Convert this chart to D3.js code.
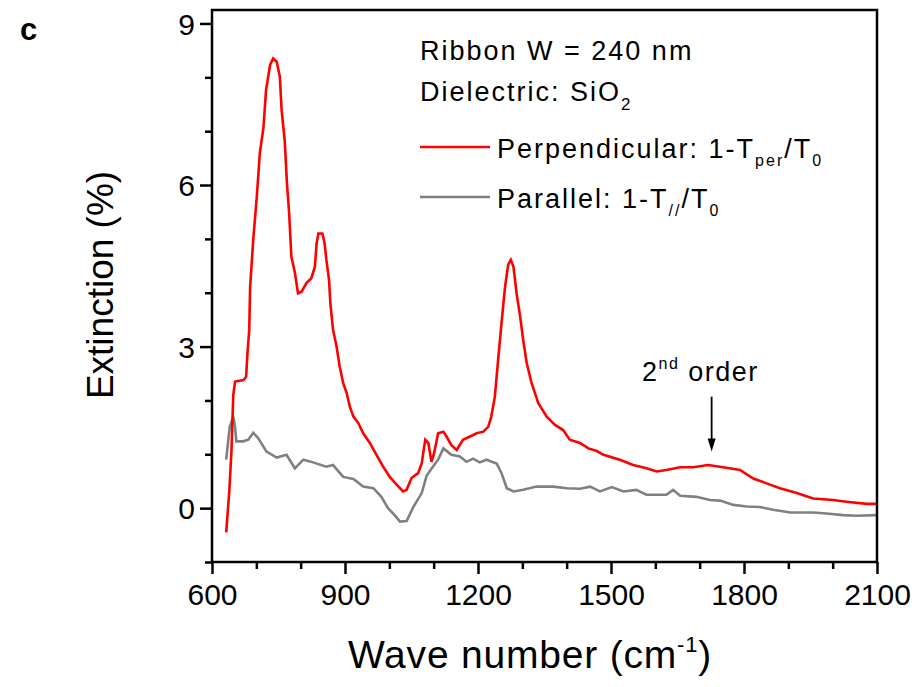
<!DOCTYPE html>
<html><head><meta charset="utf-8">
<script src="https://cdn.jsdelivr.net/npm/d3@7/dist/d3.min.js"></script>
<style>
body{margin:0;background:#fff;}
svg{display:block;font-family:"Liberation Sans",Arial,sans-serif;}
</style></head>
<body><svg id="chart" width="924" height="687"></svg>
<script>
// Perpendicular (red) series
const wnPerp = [632,639,644,648,652,671,677,680,684,686,693,701,708,716,722,731,738,746,753,757,764,769,774,779,787,794,802,813,824,832,836,840,849,854,858,864,867,873,881,888,896,904,911,919,930,941,956,971,986,1001,1017,1031,1039,1050,1065,1073,1081,1088,1095,1101,1110,1122,1129,1140,1152,1166,1182,1197,1212,1223,1230,1238,1246,1253,1261,1268,1274,1280,1287,1295,1302,1310,1321,1336,1355,1373,1392,1407,1430,1449,1468,1483,1520,1550,1580,1603,1625,1656,1685,1719,1753,1791,1821,1851,1881,1919,1956,2001,2031,2077,2100];
const extPerp = [-0.45,0.31,1.08,2.10,2.35,2.38,2.44,2.88,3.31,4.11,4.98,5.78,6.60,7.06,7.77,8.23,8.35,8.29,8.01,7.39,6.83,6.04,5.48,4.67,4.37,3.99,4.02,4.18,4.27,4.48,4.92,5.10,5.10,4.92,4.61,4.24,3.80,3.31,3.00,2.63,2.32,2.13,1.88,1.70,1.58,1.39,1.21,0.99,0.77,0.58,0.43,0.31,0.34,0.56,0.65,0.83,1.27,1.21,0.86,1.02,1.39,1.42,1.33,1.17,1.08,1.27,1.33,1.39,1.42,1.51,1.70,2.07,2.81,3.43,4.11,4.52,4.61,4.48,3.99,3.56,3.12,2.69,2.32,1.95,1.70,1.55,1.45,1.27,1.21,1.11,1.06,0.99,0.90,0.80,0.74,0.68,0.71,0.76,0.76,0.80,0.76,0.71,0.55,0.46,0.37,0.28,0.18,0.15,0.12,0.08,0.08];
// Parallel (gray) series
const wnPar = [632,640,648,652,655,670,682,693,704,723,746,768,787,806,828,858,873,896,919,941,964,982,997,1013,1024,1039,1054,1073,1084,1099,1110,1122,1140,1159,1174,1189,1204,1219,1242,1253,1265,1280,1302,1332,1370,1400,1430,1453,1475,1502,1528,1557,1580,1625,1640,1656,1693,1723,1746,1776,1806,1836,1866,1904,1956,1986,2024,2054,2100];
const extPar = [0.90,1.51,1.70,1.51,1.24,1.24,1.27,1.40,1.30,1.05,0.94,0.99,0.74,0.90,0.85,0.77,0.80,0.58,0.54,0.40,0.37,0.21,0.00,-0.14,-0.25,-0.24,0.02,0.28,0.60,0.78,0.90,1.11,0.99,0.96,0.86,0.92,0.85,0.90,0.83,0.65,0.37,0.31,0.34,0.40,0.40,0.37,0.36,0.40,0.31,0.39,0.31,0.34,0.25,0.25,0.34,0.23,0.21,0.15,0.14,0.06,0.03,0.02,-0.03,-0.08,-0.08,-0.10,-0.13,-0.14,-0.13];
const xMajorTicks = [600,900,1200,1500,1800,2100];
const xMinorTicks = [700,800,1000,1100,1300,1400,1600,1700,1900,2000];
const yMajorTicks = [0,3,6,9];
const yMinorTicks = [-1,1,2,4,5,7,8];
const arrowX = 1727, arrowTop = 2.07, arrowTip = 1.05;

const svg = d3.select("#chart");
const L = 212, R = 877, T = 10, B = 562;
const x = d3.scaleLinear().domain([600,2100]).range([L,R]);
const y = d3.scaleLinear().domain([-1,9.25]).range([B,T]);

const line = d3.line().x(d=>x(d[0])).y(d=>y(d[1]));
svg.append("path").datum(d3.zip(wnPar,extPar)).attr("d",line)
  .attr("fill","none").attr("stroke","#808080").attr("stroke-width",2.6).attr("stroke-linejoin","miter");
svg.append("path").datum(d3.zip(wnPerp,extPerp)).attr("d",line)
  .attr("fill","none").attr("stroke","#ff0000").attr("stroke-width",2.6).attr("stroke-linejoin","miter");

// frame
svg.append("rect").attr("x",L).attr("y",T).attr("width",R-L).attr("height",B-T)
  .attr("fill","none").attr("stroke","#000").attr("stroke-width",2.5);

// axes
const xAx = svg.append("g").attr("transform",`translate(0,${B})`);
xAx.call(d3.axisBottom(x).tickValues(xMajorTicks).tickSize(12).tickFormat(d3.format("d")));
const xAxMin = svg.append("g").attr("transform",`translate(0,${B})`);
xAxMin.call(d3.axisBottom(x).tickValues(xMinorTicks).tickSize(7).tickFormat(""));
const yAx = svg.append("g").attr("transform",`translate(${L},0)`);
yAx.call(d3.axisLeft(y).tickValues(yMajorTicks).tickSize(12).tickFormat(d3.format("d")));
const yAxMin = svg.append("g").attr("transform",`translate(${L},0)`);
yAxMin.call(d3.axisLeft(y).tickValues(yMinorTicks).tickSize(7).tickFormat(""));
svg.selectAll(".domain").remove();
svg.selectAll(".tick line").attr("stroke","#000").attr("stroke-width",2.5);
xAx.selectAll("text").attr("font-size",30).attr("font-family","Liberation Sans, Arial").attr("fill","#000").attr("dy","0.95em").attr("y",14);
yAx.selectAll("text").attr("font-size",30).attr("font-family","Liberation Sans, Arial").attr("fill","#000").attr("x",-17).attr("dy","0.36em");

// axis titles
const xt = svg.append("text").attr("x",530).attr("y",668).attr("text-anchor","middle").attr("font-size",39).attr("letter-spacing",0.8);
xt.append("tspan").text("Wave number (cm");
xt.append("tspan").attr("font-size",22).attr("dy",-16).text("-1");
xt.append("tspan").attr("dy",16).text(")");
svg.append("text").attr("transform","translate(113,285) rotate(-90)").attr("text-anchor","middle")
  .attr("font-size",37).text("Extinction (%)");

// panel label
svg.append("text").attr("x",20).attr("y",40).attr("font-size",31).attr("font-weight","bold").text("c");

// annotations
svg.append("text").attr("x",420).attr("y",60).attr("font-size",27).attr("letter-spacing",2).text("Ribbon W = 240 nm");
const di = svg.append("text").attr("x",420).attr("y",101).attr("font-size",27).attr("letter-spacing",2);
di.append("tspan").text("Dielectric: SiO");
di.append("tspan").attr("font-size",17).attr("dy",9).text("2");

// legend
svg.append("line").attr("x1",420).attr("x2",490).attr("y1",147).attr("y2",147).attr("stroke","#ff0000").attr("stroke-width",2.6);
svg.append("line").attr("x1",420).attr("x2",490).attr("y1",197).attr("y2",197).attr("stroke","#808080").attr("stroke-width",2.6);
const l1 = svg.append("text").attr("x",497).attr("y",158).attr("font-size",27).attr("letter-spacing",2);
l1.append("tspan").text("Perpendicular: 1-T");
l1.append("tspan").attr("font-size",16).attr("dy",8).text("per");
l1.append("tspan").attr("dy",-8).text("/T");
l1.append("tspan").attr("font-size",16).attr("dy",8).text("0");
const l2 = svg.append("text").attr("x",497).attr("y",208).attr("font-size",27).attr("letter-spacing",2);
l2.append("tspan").text("Parallel: 1-T");
l2.append("tspan").attr("font-size",16).attr("dy",8).text("//");
l2.append("tspan").attr("dy",-8).text("/T");
l2.append("tspan").attr("font-size",16).attr("dy",8).text("0");

// 2nd order annotation
const so = svg.append("text").attr("x",642).attr("y",381).attr("font-size",27).attr("letter-spacing",1.5);
so.append("tspan").text("2");
so.append("tspan").attr("font-size",16).attr("dy",-12).text("nd");
so.append("tspan").attr("dy",12).text(" order");
svg.append("line").attr("x1",x(arrowX)).attr("x2",x(arrowX)).attr("y1",y(arrowTop)).attr("y2",y(arrowTip)-10)
  .attr("stroke","#000").attr("stroke-width",1.8);
svg.append("path").attr("d",`M${x(arrowX)-4},${y(arrowTip)-13} L${x(arrowX)+4},${y(arrowTip)-13} L${x(arrowX)},${y(arrowTip)} Z`).attr("fill","#000");
</script></body></html>
